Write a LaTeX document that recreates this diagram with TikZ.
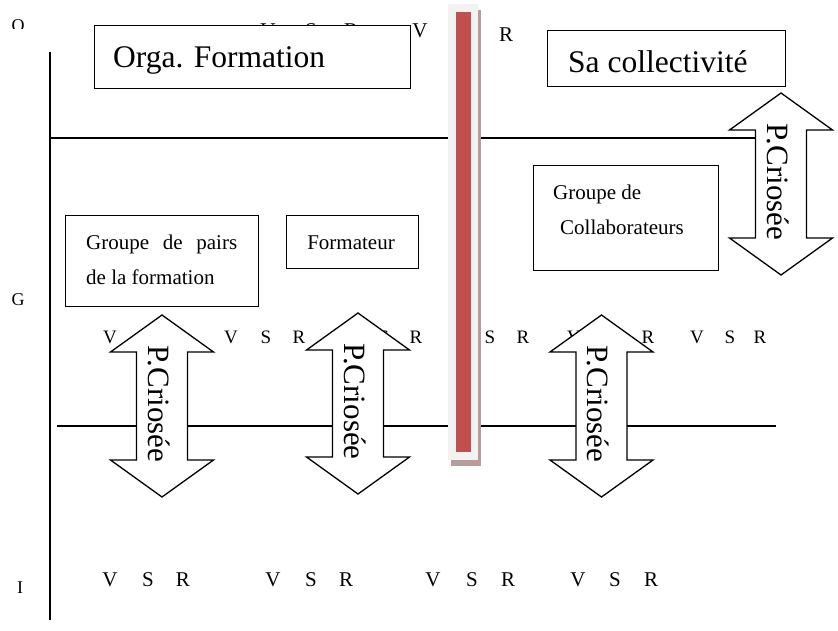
\documentclass[tikz,border=0pt]{standalone}
\usepackage{fontspec}
\setmainfont{Liberation Serif}
\definecolor{barred}{HTML}{C0504D}
\definecolor{bargray}{HTML}{F2F2F2}
\definecolor{barshadow}{HTML}{B89B9B}
\tikzset{
  rule/.style={line width=1.3pt},
  box/.style={draw, line width=1.3pt, fill=white, inner sep=0, anchor=north west},
  vsrtop/.style={font=\fontsize{21}{25}\selectfont, inner sep=0, anchor=base},
  vsrmid/.style={font=\fontsize{19}{23}\selectfont, inner sep=0, anchor=base},
  vsrbot/.style={font=\fontsize{21}{25}\selectfont, inner sep=0, anchor=base},
  axlbl/.style={font=\fontsize{18}{20}\selectfont, inner sep=0, anchor=base},
  boxtext/.style={font=\fontsize{21}{25}\selectfont, inner sep=0, anchor=base west},
  bigtext/.style={font=\fontsize{31.5}{35}\selectfont, inner sep=0, anchor=base west},
  arrshape/.style={draw, line width=1.3pt, fill=white, line join=miter},
  arrtext/.style={font=\fontsize{31}{34}\selectfont, inner sep=0, rotate=-90}
}
\newcommand{\dblarr}[4]{%
  \draw[arrshape] (#2,#3) -- (#2+51.5,#3+37) -- (#2+25.5,#3+37) -- (#2+25.5,#4-37)
    -- (#2+51.5,#4-37) -- (#2,#4) -- (#2-51.5,#4-37) -- (#2-25.5,#4-37)
    -- (#2-25.5,#3+37) -- (#2-51.5,#3+37) -- cycle;
  \node[arrtext] (#1) at ({#2-3},{(#3+#4)/2-2}) {P.Criosée};
}
\begin{document}
\begin{tikzpicture}[x=1pt,y=-1pt]
\useasboundingbox (0,0) rectangle (838,630);
% axis labels
\begin{scope}
  \clip (0,0) rectangle (40,28);
  \node[axlbl] (lo) at (18,31) {O};
\end{scope}
\node[axlbl] (lg) at (18,305) {G};
\node[axlbl] (li) at (20,593) {I};
% axes / lines
\coordinate (vtop) at (50,52);
\coordinate (vbot) at (50,620);
\draw[rule] (vtop) -- (vbot);
\coordinate (h1a) at (50,138);
\coordinate (h1b) at (756,138);
\draw[rule] (h1a) -- (h1b);
\coordinate (h2a) at (57,426);
\coordinate (h2b) at (776,426);
\draw[rule] (h2a) -- (h2b);
% top row letters
\node[vsrtop] (t1) at (268,37) {V};
\node[vsrtop] (t2) at (311,37) {S};
\node[vsrtop] (t3) at (351,37) {R};
\node[vsrtop] (t4) at (420,37) {V};
\node[vsrtop] (t5) at (463,39) {S};
\node[vsrtop] (t6) at (506,41) {R};
% middle row letters
\node[vsrmid] (m1) at (110,343) {V};
\node[vsrmid] (m2) at (143,343) {S};
\node[vsrmid] (m3) at (176,343) {R};
\node[vsrmid] (m4) at (231,343) {V};
\node[vsrmid] (m5) at (266,343) {S};
\node[vsrmid] (m6) at (299,343) {R};
\node[vsrmid] (m7) at (350,343) {V};
\node[vsrmid] (m8) at (384,343) {S};
\node[vsrmid] (m9) at (416,343) {R};
\node[vsrmid] (m10) at (458,343) {V};
\node[vsrmid] (m11) at (490,343) {S};
\node[vsrmid] (m12) at (523,343) {R};
\node[vsrmid] (m13) at (574,343) {V};
\node[vsrmid] (m14) at (610,343) {S};
\node[vsrmid] (m15) at (648,343) {R};
\node[vsrmid] (m16) at (697,343) {V};
\node[vsrmid] (m17) at (730,343) {S};
\node[vsrmid] (m18) at (760,343) {R};
% bottom row letters
\node[vsrbot] (b1) at (110,586) {V};
\node[vsrbot] (b2) at (148,586) {S};
\node[vsrbot] (b3) at (183,586) {R};
\node[vsrbot] (b4) at (273,586) {V};
\node[vsrbot] (b5) at (311,586) {S};
\node[vsrbot] (b6) at (346,586) {R};
\node[vsrbot] (b7) at (433,586) {V};
\node[vsrbot] (b8) at (472,586) {S};
\node[vsrbot] (b9) at (508,586) {R};
\node[vsrbot] (b10) at (578,586) {V};
\node[vsrbot] (b11) at (615,586) {S};
\node[vsrbot] (b12) at (651,586) {R};
% boxes
\node[box, minimum width=316pt, minimum height=63pt] (orga) at (94,25) {};
\node[bigtext] (orgat) at (113,67) {Orga. Formation};
\node[box, minimum width=238pt, minimum height=56pt] (sa) at (547,30) {};
\node[bigtext] (sat) at (568,72) {Sa collectivité};
\node[box, minimum width=185pt, minimum height=105pt] (collab) at (533,165) {};
\node[boxtext] (collab1) at (553,199) {Groupe de};
\node[boxtext] (collab2) at (560,234) {Collaborateurs};
\node[box, minimum width=193pt, minimum height=91pt] (pairs) at (65,215) {};
\node[boxtext] (pairs1) at (86,249) {\makebox[151pt][s]{Groupe\hfill de\hfill pairs}};
\node[boxtext] (pairs2) at (86,284) {de la formation};
\node[box, minimum width=132pt, minimum height=53pt] (form) at (286,215) {};
\node[font=\fontsize{21}{25}\selectfont, inner sep=0, anchor=base] (formt) at (351,249) {Formateur};
% double arrows
\dblarr{arrR}{781}{93}{275}
\dblarr{arrA}{162}{315}{497}
\dblarr{arrB}{358}{313}{494}
\dblarr{arrC}{601.5}{315}{497}
% red bar
\fill[barshadow] (451,10) rectangle (481,466);
\fill[bargray] (448,4) rectangle (478,460);
\fill[barred] (456,12) rectangle (471,452);
\end{tikzpicture}
\end{document}
